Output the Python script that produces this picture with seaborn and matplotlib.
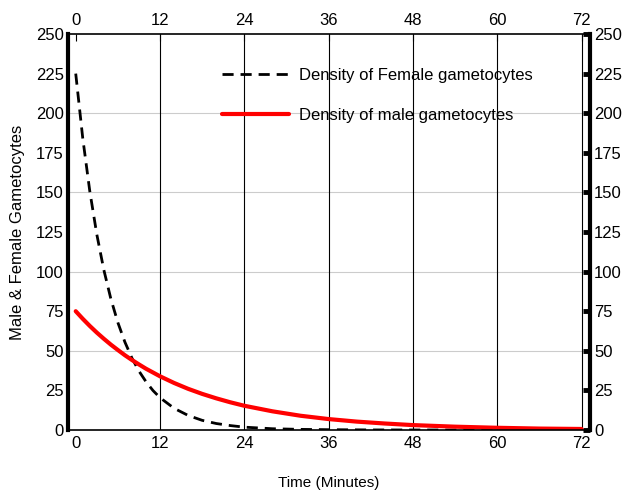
import matplotlib
matplotlib.use("Agg")
import matplotlib.pyplot as plt
import seaborn as sns
import pandas as pd

# Data
time_f = [0, 1, 2, 3, 4, 5, 6, 7, 8, 9, 10, 11, 12, 14, 16, 18, 20, 22, 24, 28, 32, 36, 42, 48, 60, 72]
female = [225, 184.2, 150.8, 123.5, 101.1, 82.8, 67.8, 55.5, 45.4, 37.2, 30.5, 24.9, 20.4,
          13.7, 9.2, 6.1, 4.1, 2.8, 1.8, 0.8, 0.4, 0.2, 0.05, 0.01, 0, 0]
time_m = [0, 1, 2, 3, 4, 5, 6, 7, 8, 9, 10, 11, 12, 14, 16, 18, 20, 22, 24, 28, 32, 36, 40, 44, 48, 54, 60, 66, 72]
male = [75, 70.2, 65.7, 61.5, 57.6, 53.9, 50.5, 47.2, 44.2, 41.4, 38.7, 36.3, 33.9,
        29.7, 26.0, 22.8, 20.0, 17.5, 15.3, 11.8, 9.0, 6.9, 5.3, 4.1, 3.1, 2.1, 1.4, 0.9, 0.65]
x_ticks = [0, 12, 24, 36, 48, 60, 72]
y_ticks = [0, 25, 50, 75, 100, 125, 150, 175, 200, 225, 250]
hgrid = [50, 100, 150, 200]

sns.set_style("white")
plt.rcParams['font.family'] = ['Liberation Sans', 'DejaVu Sans']
plt.rcParams['text.color'] = 'black'
plt.rcParams['axes.labelcolor'] = 'black'
plt.rcParams['xtick.color'] = 'black'
plt.rcParams['ytick.color'] = 'black'

df_f = pd.DataFrame({"t": time_f, "v": female})
df_m = pd.DataFrame({"t": time_m, "v": male})

fig = plt.figure(figsize=(6.25, 4.95), dpi=100)
ax = fig.add_axes([0.1088, 0.1313, 0.8352, 0.80])

for y in hgrid:
    ax.axhline(y, color="#cccccc", lw=0.8, zorder=0)
for x in x_ticks[1:]:
    ax.axvline(x, color="black", lw=0.8, zorder=0)

sns.lineplot(data=df_f, x="t", y="v", ax=ax, color="black", lw=2.0,
             linestyle=(0, (4, 2.5)), label="Density of Female gametocytes")
sns.lineplot(data=df_m, x="t", y="v", ax=ax, color="#ff0000", lw=3.0,
             label="Density of male gametocytes")

ax.set_xlim(-1.1, 73.2)
ax.set_ylim(0, 250)
ax.set_xticks(x_ticks)
ax.set_yticks(y_ticks)
ax.tick_params(axis="x", direction="in", length=5, width=0.8, top=True, labeltop=True,
               labelsize=12, pad=4, colors="black")
ax.tick_params(axis="y", direction="in", length=5, width=3.5, right=True, labelright=True,
               labelsize=12, pad=3, colors="black")

for s in ["left", "right"]:
    ax.spines[s].set_linewidth(3)
    ax.spines[s].set_color("black")
for s in ["top", "bottom"]:
    ax.spines[s].set_linewidth(1.2)
    ax.spines[s].set_color("black")

ax.set_xlabel("Time (Minutes)", fontsize=11, labelpad=18, color="black")
ax.set_ylabel("Male & Female Gametocytes", fontsize=12, labelpad=8, color="black")

leg = ax.legend(loc="upper left", bbox_to_anchor=(0.295, 0.915), frameon=False,
                fontsize=12, handlelength=4.0, handletextpad=0.6, labelspacing=1.5,
                borderpad=0, borderaxespad=0)
for t in leg.get_texts():
    t.set_color("black")

fig.savefig("out.png", dpi=100)
